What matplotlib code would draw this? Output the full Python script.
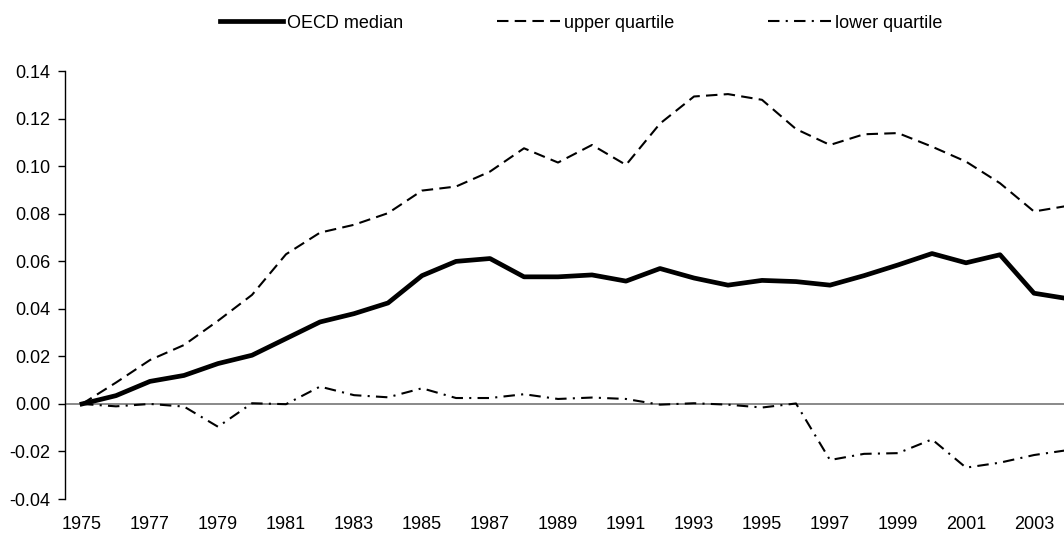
import numpy as np
import matplotlib.pyplot as plt

plt.rcParams['font.family'] = ['Liberation Sans', 'DejaVu Sans']

# values
years = list(range(1975, 2005))
median = [0.000, 0.0035, 0.0095, 0.012, 0.017, 0.0205, 0.0275, 0.0345, 0.038, 0.0425,
          0.054, 0.060, 0.0612, 0.0535, 0.0535, 0.0543, 0.0517, 0.057, 0.053, 0.050,
          0.052, 0.0515, 0.050, 0.054, 0.0585, 0.0633, 0.0594, 0.0628, 0.0466, 0.0443]
upper = [0.000, 0.009, 0.0185, 0.0248, 0.035, 0.0459, 0.063, 0.0721, 0.0754, 0.0803,
         0.0898, 0.0915, 0.0978, 0.1076, 0.1016, 0.109, 0.1006, 0.118, 0.1294, 0.1304,
         0.128, 0.1157, 0.109, 0.1135, 0.114, 0.1083, 0.102, 0.0929, 0.081, 0.0834]
lower = [0.000, -0.001, 0.000, -0.0011, -0.0096, 0.0003, -0.0001, 0.0073, 0.0037, 0.0028,
         0.0066, 0.0025, 0.0025, 0.0041, 0.0021, 0.0027, 0.0021, -0.0003, 0.0003, -0.0003,
         -0.0015, 0.0002, -0.0236, -0.021, -0.0207, -0.0149, -0.0268, -0.0247, -0.0215, -0.0194]
yticks = [-0.04, -0.02, 0.00, 0.02, 0.04, 0.06, 0.08, 0.10, 0.12, 0.14]
xticks = list(range(1975, 2005, 2))

W, H = 1064, 533
fig = plt.figure(figsize=(W / 100, H / 100), dpi=100)
ax = fig.add_axes([65 / W, 1 - 499 / H, (W - 65) / W, (499 - 71.3) / H])

ax.axhline(0, color='#808080', lw=1.3, zorder=1)
ax.plot(years, median, color='black', lw=3.4, label='OECD median',
        solid_joinstyle='round', zorder=3)
ax.plot(years, upper, color='black', lw=1.5, dashes=(5.5, 3), label='upper quartile', zorder=2)
ax.plot(years, lower, color='black', lw=1.5, dashes=(5.5, 3, 1, 3), label='lower quartile', zorder=2)

ax.set_xlim(1974.5, 1974.5 + (W - 65) / 34)
ax.set_ylim(-0.04, 0.14)
ax.set_yticks(yticks)
ax.set_yticklabels(['%.2f' % v for v in yticks], fontsize=13)
ax.set_xticks(xticks)
ax.set_xticklabels([str(y) for y in xticks], fontsize=13)
ax.tick_params(axis='y', direction='out', length=5, width=1, pad=5.5)
ax.tick_params(axis='x', length=0, pad=12)

for s in ['top', 'right', 'bottom']:
    ax.spines[s].set_visible(False)
ax.spines['left'].set_linewidth(1)

leg = fig.legend(loc='center left', bbox_to_anchor=(220 / W, 1 - 23 / H), ncol=3, frameon=False,
                 fontsize=13, handlelength=3.5, handletextpad=0.2, columnspacing=5.2,
                 borderpad=0, borderaxespad=0)

fig.savefig('out.png', dpi=100)
